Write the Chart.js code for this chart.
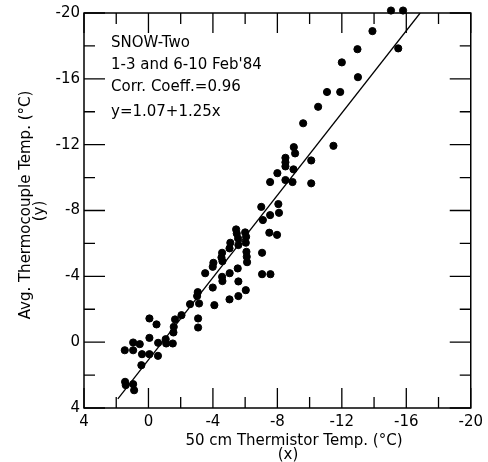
<!DOCTYPE html>
<html>
<head>
<meta charset="utf-8">
<script src="https://cdn.jsdelivr.net/npm/chart.js@4"></script>
<style>
  html, body { margin: 0; padding: 0; background: #fff; }
  #wrap { width: 488px; height: 462px; }
</style>
</head>
<body>
<div id="wrap"><canvas id="c" width="488" height="462"></canvas></div>
<script>
// ---- data ----
const thermistorX = [
  -15.05, -15.8, -13.9, -12.97, -15.5, -12.0, -13.0, -11.08, -11.9,
  -10.53, -9.6, -11.48, -9.02, -9.1, -8.5, -8.5, -8.5, -10.1, -9.0, -8.0,
  -7.55, -8.5, -8.94, -10.1,
  -7.0, -7.55, -8.06, -8.1, -7.1, -7.5, -7.98, -7.05, -7.05, -7.57,
  -5.44, -5.48, -5.56, -6.0, -6.06, -6.04, -5.08, -5.03, -5.58,
  -4.57, -4.53, -4.59, -6.08, -6.1, -6.12, -4.03, -3.99, -5.04, -5.54,
  -3.52, -4.57, -4.59, -5.58, -3.99, -6.04, -5.58, -5.03, -3.06, -3.02,
  -2.58, -3.14, -4.09, -2.05, -1.65, -3.08, -3.08, -0.06, -0.5,
  -1.57, -1.55, -0.06, -0.6, -1.07, -1.1, -1.51, 0.95, 0.54, 0.95, 1.47,
  0.4, -0.06, -0.59, 0.44, 1.45, 1.41, 0.95, 0.89
];
const thermocoupleY = [
  -20.15, -20.15, -18.9, -17.8, -17.85, -17.0, -16.1, -15.2, -15.2,
  -14.3, -13.3, -11.93, -11.85, -11.47, -11.2, -10.93, -10.68, -11.04, -10.5, -10.27,
  -9.73, -9.85, -9.73, -9.65,
  -8.22, -7.72, -8.39, -7.86, -7.42, -6.65, -6.52, -5.43, -4.13, -4.13,
  -6.85, -6.6, -6.3, -6.67, -6.4, -6.04, -6.04, -5.7, -5.9,
  -5.43, -5.15, -4.92, -5.49, -5.19, -4.86, -4.82, -4.58, -4.19, -4.48,
  -4.19, -3.97, -3.71, -3.69, -3.32, -3.16, -2.8, -2.6, -3.04, -2.8,
  -2.31, -2.35, -2.25, -1.64, -1.38, -1.44, -0.89, -1.44, -1.08,
  -0.93, -0.59, -0.26, 0.04, -0.18, 0.08, 0.08, 0.02, 0.12, 0.49, 0.49,
  0.73, 0.73, 0.83, 1.4, 2.41, 2.61, 2.55, 2.92
];
// regression line endpoints (y = 1.07 + 1.25x), read where it starts and leaves the frame
const fitX = [1.9, -16.86];
const fitY = [3.45, -20.0];

const tickValues = [4, 0, -4, -8, -12, -16, -20];
const minorTickValues = [2, -2, -6, -10, -14, -18];

const annotationLines = ["SNOW-Two", "1-3 and 6-10 Feb'84", "Corr. Coeff.=0.96", "y=1.07+1.25x"];
const xTitleLines = ["50 cm Thermistor Temp. (°C)", "(x)"];
const yTitleLines = ["Avg. Thermocouple Temp. (°C)", "(y)"];

// ---- build datasets ----
const scatterPts = thermistorX.map((x, i) => ({ x: x, y: thermocoupleY[i] }));
const fitPts = fitX.map((x, i) => ({ x: x, y: fitY[i] }));

const FONT = "'DejaVu Sans', sans-serif";

const framePlugin = {
  id: 'frame',
  afterDatasetsDraw(chart) {
    const ctx = chart.ctx;
    const a = chart.chartArea;
    const xs = chart.scales.x, ys = chart.scales.y;
    ctx.save();
    ctx.strokeStyle = '#000';
    ctx.lineWidth = 1.5;
    ctx.strokeRect(a.left, a.top, a.right - a.left, a.bottom - a.top);
    ctx.lineWidth = 1.3;
    const drawX = (v, len) => {
      const p = xs.getPixelForValue(v);
      ctx.beginPath();
      ctx.moveTo(p, a.bottom); ctx.lineTo(p, a.bottom - len);
      ctx.moveTo(p, a.top); ctx.lineTo(p, a.top + len);
      ctx.stroke();
    };
    const drawY = (v, len) => {
      const p = ys.getPixelForValue(v);
      ctx.beginPath();
      ctx.moveTo(a.left, p); ctx.lineTo(a.left + len, p);
      ctx.moveTo(a.right, p); ctx.lineTo(a.right - len, p);
      ctx.stroke();
    };
    tickValues.forEach(v => { drawX(v, 20); drawY(v, 21); });
    minorTickValues.forEach(v => { drawX(v, 11); drawY(v, 11); });

    // annotation text
    ctx.fillStyle = '#000';
    ctx.font = '15px ' + FONT;
    ctx.textAlign = 'left';
    ctx.textBaseline = 'alphabetic';
    const baselines = [47, 69, 91, 116];
    annotationLines.forEach((t, i) => ctx.fillText(t, a.left + 27, baselines[i]));

    // x title
    ctx.textAlign = 'center';
    ctx.textBaseline = 'middle';
    ctx.fillText(xTitleLines[0], 294, 441);
    ctx.fillText(xTitleLines[1], 288, 455);

    // y title
    ctx.save();
    ctx.translate(26, 205);
    ctx.rotate(-Math.PI / 2);
    ctx.fillText(yTitleLines[0], 0, 0);
    ctx.restore();
    ctx.save();
    ctx.translate(40, 211);
    ctx.rotate(-Math.PI / 2);
    ctx.fillText(yTitleLines[1], 0, 0);
    ctx.restore();
    ctx.restore();
  }
};

new Chart(document.getElementById('c'), {
  type: 'scatter',
  data: {
    datasets: [
      {
        label: 'Observations',
        data: scatterPts,
        backgroundColor: '#000',
        borderColor: '#000',
        pointRadius: 3.6,
        pointHoverRadius: 3.6,
        clip: false
      },
      {
        type: 'line',
        label: 'Fit',
        data: fitPts,
        borderColor: '#000',
        borderWidth: 1.3,
        pointRadius: 0,
        fill: false,
        showLine: true
      }
    ]
  },
  plugins: [framePlugin],
  options: {
    responsive: false,
    animation: false,
    devicePixelRatio: 1,
    layout: { padding: { top: 13, right: 7, left: 0, bottom: 0 } },
    plugins: { legend: { display: false }, tooltip: { enabled: false } },
    scales: {
      x: {
        type: 'linear',
        reverse: true,
        min: -20, max: 4,
        afterFit: s => { s.height = 54; },
        afterBuildTicks: s => { s.ticks = tickValues.map(v => ({ value: v })); },
        grid: { display: false, drawTicks: false },
        border: { display: false },
        ticks: {
          color: '#000',
          font: { family: FONT, size: 15 },
          padding: 5,
          maxRotation: 0,
          callback: v => String(v)
        }
      },
      y: {
        type: 'linear',
        reverse: true,
        min: -20, max: 4,
        afterFit: s => { s.width = 84; },
        afterBuildTicks: s => { s.ticks = tickValues.map(v => ({ value: v })); },
        grid: { display: false, drawTicks: false },
        border: { display: false },
        ticks: {
          color: '#000',
          font: { family: FONT, size: 15 },
          padding: 4,
          callback: v => String(v)
        }
      }
    }
  }
});
</script>
</body>
</html>
